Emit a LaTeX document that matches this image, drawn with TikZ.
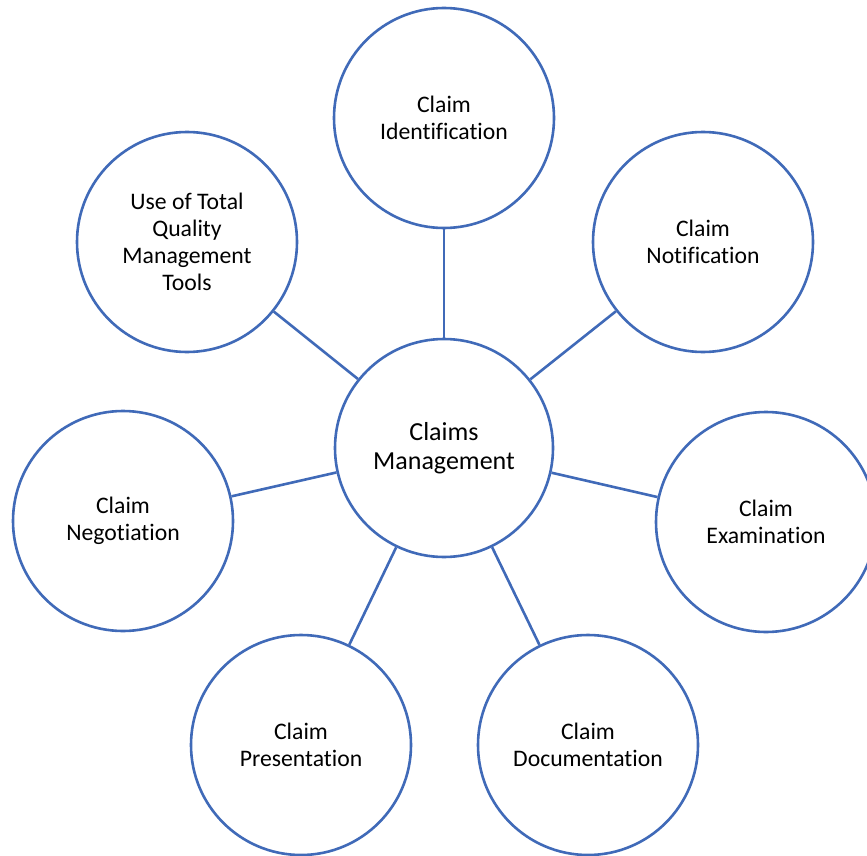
\documentclass[tikz,border=0pt]{standalone}
\usepackage{fontspec}
\setmainfont{Carlito}[Ligatures=CommonOff]
\definecolor{cblue}{RGB}{64,106,184}
\begin{document}
\begin{tikzpicture}[x=1pt,y=-1pt,
  bub/.style={circle,draw=cblue,line width=2.6pt,fill=white,minimum size=220pt,inner sep=0pt,align=center,font=\fontsize{23.7}{27}\selectfont},
  hub/.style={bub,minimum size=218pt,font=\fontsize{26}{29}\selectfont},
  link/.style={draw=cblue,line width=2.6pt}]
\useasboundingbox (0,0) rectangle (867,856);
\clip (0,0) rectangle (867,856);
\node[hub] (c) at (444,448) {Claims\\Management};
\node[bub] (ident) at (444,118) {Claim\\Identification};
\node[bub] (notif) at (703,242) {Claim\\Notification};
\node[bub] (exam) at (766,522) {Claim\\Examination};
\node[bub] (doc) at (588,745) {Claim\\Documentation};
\node[bub] (pres) at (301,745) {Claim\\Presentation};
\node[bub] (neg) at (123,521) {Claim\\Negotiation};
\node[bub] (tqm) at (187,242) {Use of Total\\Quality\\Management\\Tools};
\foreach \n in {ident,notif,exam,doc,pres,neg,tqm}
  \draw[link] (c) -- (\n);
\end{tikzpicture}
\end{document}
